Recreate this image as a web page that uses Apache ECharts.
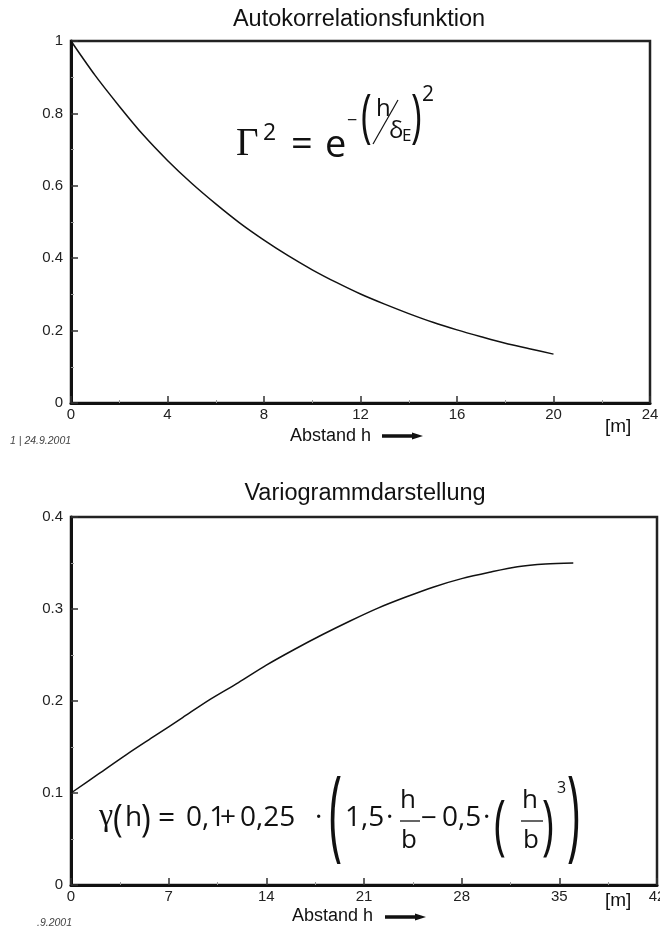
<!DOCTYPE html>
<html>
<head>
<meta charset="utf-8">
<script src="https://cdn.jsdelivr.net/npm/echarts@6/dist/echarts.min.js"></script>
<style>
  html, body { margin: 0; padding: 0; background: #fff; }
  #chart { width: 660px; height: 929px; }
</style>
</head>
<body>
<div id="chart"></div>
<script>
// Autocorrelation: distance h [m] and correlation value
const acfH = [0, 1, 2, 3, 4, 5, 6, 7, 8, 9, 10, 11, 12, 13, 14, 15, 16, 17, 18, 19, 20];
const acfValues = [1.00, 0.905, 0.82, 0.74, 0.67, 0.607, 0.55, 0.497, 0.45, 0.407, 0.368,
                   0.333, 0.301, 0.273, 0.247, 0.223, 0.202, 0.183, 0.165, 0.15, 0.135];

// Variogram: distance h [m] and semivariance
const varH = [0, 2, 4, 6, 8, 10, 12, 14, 16, 18, 20, 22, 24, 26, 28, 30, 32, 34, 36];
const varValues = [0.100, 0.121, 0.142, 0.162, 0.182, 0.202, 0.220, 0.239, 0.256, 0.272,
                   0.287, 0.301, 0.313, 0.324, 0.333, 0.340, 0.346, 0.349, 0.350];

// Axis ranges and tick steps
const acfXTicks = { min: 0, max: 24, step: 4 };
const acfYTicks = { min: 0, max: 1, step: 0.2 };
const varXTicks = { min: 0, max: 42, step: 7 };
const varYTicks = { min: 0, max: 0.4, step: 0.1 };

const titles = ['Autokorrelationsfunktion', 'Variogrammdarstellung'];
const xName = 'Abstand h';
const unit = '[m]';

const SANS = "'Liberation Sans', Arial, sans-serif";
const MATH = "'Open Sans', 'Noto Sans', sans-serif";
const SERIF = "'Liberation Serif', 'DejaVu Serif', serif";
const INK = '#111';

function makeX(t, gridIndex) {
  return {
    type: 'value', gridIndex, min: t.min, max: t.max, interval: t.step,
    axisLine: { show: true, onZero: false, lineStyle: { color: INK, width: 3 } },
    axisTick: { show: true, inside: true, length: 7, lineStyle: { color: '#333', width: 1.5 } },
    minorTick: { show: true, splitNumber: 2, length: 3, lineStyle: { color: '#999', width: 1 } },
    splitLine: { show: false },
    axisLabel: { color: '#222', fontFamily: SANS, fontSize: 15, margin: 4 }
  };
}
function makeY(t, gridIndex) {
  return {
    type: 'value', gridIndex, min: t.min, max: t.max, interval: t.step,
    axisLine: { show: true, onZero: false, lineStyle: { color: INK, width: 3 } },
    axisTick: { show: true, inside: true, length: 7, lineStyle: { color: '#333', width: 1.5 } },
    minorTick: { show: true, splitNumber: 2, length: 3, lineStyle: { color: '#999', width: 1 } },
    splitLine: { show: false },
    axisLabel: { color: '#222', fontFamily: SANS, fontSize: 15, margin: 8 }
  };
}

// text helper for the formulas and annotations
function txt(text, x, y, size, family, extra) {
  const el = {
    type: 'text', x: x, y: y, z: 10, silent: true,
    style: Object.assign({
      text: text, fontSize: size, fontFamily: family, fill: INK,
      textAlign: 'left', textVerticalAlign: 'middle', verticalAlign: 'middle'
    }, (extra && extra.style) || {})
  };
  if (extra && extra.scaleY) { el.scaleY = extra.scaleY; }
  return el;
}
function rule(x1, y1, x2, y2, w) {
  return { type: 'line', z: 10, silent: true,
    shape: { x1, y1, x2, y2 }, style: { stroke: INK, lineWidth: w || 1.3 } };
}
function arrow(x0, y) {
  return { type: 'polygon', z: 10, silent: true,
    shape: { points: [[x0, y - 1.8], [x0 + 30, y - 1.8], [x0 + 30, y - 3.5], [x0 + 41, y],
                      [x0 + 30, y + 3.5], [x0 + 30, y + 1.8], [x0, y + 1.8]] },
    style: { fill: INK } };
}

const graphic = [
  // titles
  txt(titles[0], 359, 20, 23.5, SANS, { style: { textAlign: 'center' } }),
  txt(titles[1], 365, 494, 23.5, SANS, { style: { textAlign: 'center' } }),
  // axis captions
  txt(xName, 290, 436, 18, SANS), arrow(382, 436),
  txt(xName, 292, 916, 18, SANS), arrow(385, 917),
  txt(unit, 605, 427, 19, SANS),
  txt(unit, 605, 901, 19, SANS),
  // dates
  txt('1 | 24.9.2001', 10, 441, 10.5, SANS, { style: { fontStyle: 'italic', fill: '#444' } }),
  txt('.9.2001', 37, 923, 10.5, SANS, { style: { fontStyle: 'italic', fill: '#444' } }),

  // Γ² = e^{-(h/δE)²}
  txt('\u0393', 236, 145, 39, SERIF),
  txt('2', 263, 133, 23, MATH),
  txt('=', 291, 145, 38, MATH),
  txt('e', 325, 146, 38, MATH),
  txt('\u2212', 347, 121, 18, MATH),
  txt('(', 361, 120, 36, MATH, { scaleY: 1.6 }),
  txt('h', 376, 109, 24, MATH),
  rule(373, 144, 398, 100, 1.2),
  txt('\u03b4', 389, 131, 24, MATH),
  txt('E', 402, 136, 17, MATH),
  txt(')', 411, 120, 36, MATH, { scaleY: 1.6 }),
  txt('2', 422, 95, 21, MATH),

  // γ(h) = 0,1 + 0,25 · (1,5 · h/b − 0,5 · (h/b)³)
  txt('\u03b3', 99, 817, 32, SERIF),
  txt('(', 113, 821, 33, MATH, { scaleY: 1.17 }),
  txt('h', 125, 818, 28, MATH),
  txt(')', 141, 821, 33, MATH, { scaleY: 1.17 }),
  txt('=', 158, 818, 30, MATH),
  txt('0,1', 186, 818, 28, MATH),
  txt('+', 220, 818, 28, MATH),
  txt('0,25', 240, 818, 28, MATH),
  txt('\u00b7', 315, 818, 28, MATH),
  txt('(', 329, 820, 44, MATH, { scaleY: 2.27 }),
  txt('1,5', 345, 818, 28, MATH),
  txt('\u00b7', 386, 818, 28, MATH),
  txt('h', 400, 801, 26, MATH),
  rule(400, 821, 420, 821, 1.3),
  txt('b', 401, 841, 26, MATH),
  txt('\u2212', 421, 819, 28, MATH),
  txt('0,5', 442, 818, 28, MATH),
  txt('\u00b7', 483, 818, 28, MATH),
  txt('(', 494, 828, 40, MATH, { scaleY: 1.66 }),
  txt('h', 522, 801, 26, MATH),
  rule(521, 821, 543, 821, 1.3),
  txt('b', 523, 841, 26, MATH),
  txt(')', 542, 828, 40, MATH, { scaleY: 1.66 }),
  txt('3', 557, 788, 16, MATH),
  txt(')', 567, 820, 44, MATH, { scaleY: 2.27 })
];

const chart = echarts.init(document.getElementById('chart'), null, { renderer: 'canvas' });
chart.setOption({
  animation: false,
  backgroundColor: '#fff',
  grid: [
    { left: 71, top: 41, width: 579, height: 362, show: true, borderColor: '#222', borderWidth: 2.5,
      backgroundColor: 'transparent', containLabel: false, outerBoundsMode: 'none' },
    { left: 71, top: 517, width: 586, height: 368, show: true, borderColor: '#222', borderWidth: 2.5,
      backgroundColor: 'transparent', containLabel: false, outerBoundsMode: 'none' }
  ],
  xAxis: [makeX(acfXTicks, 0), makeX(varXTicks, 1)],
  yAxis: [makeY(acfYTicks, 0), makeY(varYTicks, 1)],
  series: [
    {
      name: titles[0], type: 'line', xAxisIndex: 0, yAxisIndex: 0,
      data: acfH.map((h, i) => [h, acfValues[i]]),
      showSymbol: false, smooth: 0.3,
      lineStyle: { color: INK, width: 1.5 }
    },
    {
      name: titles[1], type: 'line', xAxisIndex: 1, yAxisIndex: 1,
      data: varH.map((h, i) => [h, varValues[i]]),
      showSymbol: false, smooth: 0.3,
      lineStyle: { color: INK, width: 1.5 }
    }
  ],
  graphic: graphic
});
</script>
</body>
</html>
